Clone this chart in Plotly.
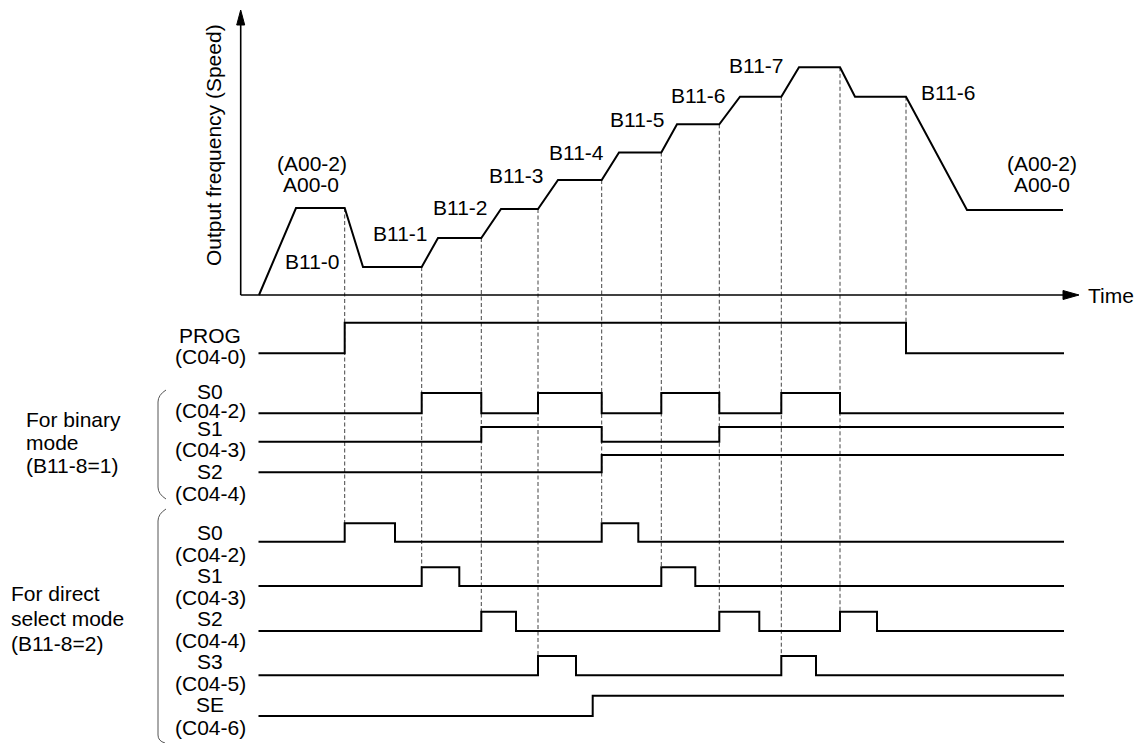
import plotly.graph_objects as go

W, H = 1138, 743
FONT = "Liberation Sans, Arial, sans-serif"
FS = 21

# ---------------- data (time in px-like units) ----------------
BASE_PX = 295          # lane coordinate of the time axis
AXIS_X0 = 240.7        # time origin of the axes
TIME_ARROW_TIP = 1079
FREQ_ARROW_TIP = 285

# speed profile (time, output frequency)
speed_t = [259, 296, 344.7, 363, 421.7, 438, 481.3, 501, 538, 558, 601.7, 619,
           661.3, 677, 719.3, 740, 781.3, 799, 840, 855, 906, 967, 1063]
speed_f = [0, 87, 87, 28, 28, 57, 57, 86, 86, 115, 115, 142.5,
           142.5, 170.7, 170.7, 198.3, 198.3, 227.7, 227.7, 198.3, 198.3, 85, 85]

speed_labels = ["(A00-2)", "A00-0", "B11-0", "B11-1", "B11-2", "B11-3", "B11-4",
                "B11-5", "B11-6", "B11-7", "B11-6", "(A00-2)", "A00-0"]
speed_label_t = [312, 311, 312, 400, 460, 516, 576, 637, 698, 756, 948, 1042, 1042]
speed_label_lane = [163, 184, 261, 233, 207, 175, 152, 119, 95, 65, 92, 163, 184]

SIG_START, SIG_END = 258.5, 1064

# signals: (low lane, high lane, toggle times), start low
prog_lanes, prog_toggles = (353.3, 322.7), [344.7, 906]
bin_s0_lanes, bin_s0_toggles = (413.3, 393.0), [421.7, 481.3, 538, 601.7, 661.3, 719.3, 781.3, 840]
bin_s1_lanes, bin_s1_toggles = (441.7, 427.0), [481.3, 601.7, 719.3]
bin_s2_lanes, bin_s2_toggles = (472.3, 455.0), [601.7]
dir_s0_lanes, dir_s0_toggles = (541.7, 523.3), [344.7, 395, 601.7, 638.3]
dir_s1_lanes, dir_s1_toggles = (586.0, 567.3), [421.7, 459.3, 661.3, 695.3]
dir_s2_lanes, dir_s2_toggles = (631.0, 611.7), [481.3, 516, 719.3, 759.3, 840, 877]
dir_s3_lanes, dir_s3_toggles = (675.3, 656.0), [538, 576, 781.3, 816]
dir_se_lanes, dir_se_toggles = (716.0, 695.7), [592.7]

signals = [
    (prog_lanes, prog_toggles), (bin_s0_lanes, bin_s0_toggles),
    (bin_s1_lanes, bin_s1_toggles), (bin_s2_lanes, bin_s2_toggles),
    (dir_s0_lanes, dir_s0_toggles), (dir_s1_lanes, dir_s1_toggles),
    (dir_s2_lanes, dir_s2_toggles), (dir_s3_lanes, dir_s3_toggles),
    (dir_se_lanes, dir_se_toggles),
]

# dashed guides: time, speed level at top, lane at bottom
guide_t = [344.7, 421.7, 481.3, 538, 601.7, 661.3, 719.3, 781.3, 840, 906]
guide_top_f = [87, 28, 57, 86, 115, 142.5, 170.7, 198.3, 227.7, 198.3]
guide_bottom_lane = [523.3, 567.3, 611.7, 656.0, 523.3, 567.3, 611.7, 656.0, 611.7, 322.7]

sig_labels = ["PROG", "(C04-0)", "S0", "(C04-2)", "S1", "(C04-3)", "S2", "(C04-4)",
              "S0", "(C04-2)", "S1", "(C04-3)", "S2", "(C04-4)", "S3", "(C04-5)",
              "SE", "(C04-6)"]
sig_label_lane = [335, 356, 391, 410, 428, 449, 471, 493,
                  532, 554, 575, 597, 618, 640, 661, 683, 704, 727]
SIG_LABEL_T = 210

group_labels = ["For binary", "mode", "(B11-8=1)", "For direct", "select mode", "(B11-8=2)"]
group_label_t = [24, 24, 24, 9, 9, 9]
group_label_lane = [419, 442, 465, 593, 618, 643]

# ---------------- figure ----------------
fig = go.Figure()

# dashed guides (speed axis: lane -> speed via shared scale)
gx, gy = [], []
for t, ft, lb in zip(guide_t, guide_top_f, guide_bottom_lane):
    gx += [t, t, None]
    gy += [ft, BASE_PX - lb, None]
fig.add_trace(go.Scatter(x=gx, y=gy, mode="lines", yaxis="y",
                         line=dict(color="#444444", width=1, dash="4px,2.5px"),
                         hoverinfo="skip", showlegend=False))

# axes with arrows
fig.add_trace(go.Scatter(x=[AXIS_X0, TIME_ARROW_TIP - 14], y=[0, 0], mode="lines",
                         line=dict(color="black", width=1.6), showlegend=False, hoverinfo="skip"))
fig.add_trace(go.Scatter(x=[AXIS_X0, AXIS_X0], y=[0, FREQ_ARROW_TIP - 13], mode="lines",
                         line=dict(color="black", width=1.6), showlegend=False, hoverinfo="skip"))
fig.add_trace(go.Scatter(x=[TIME_ARROW_TIP, TIME_ARROW_TIP - 16, TIME_ARROW_TIP - 16, TIME_ARROW_TIP],
                         y=[0, 4.5, -4.5, 0], mode="lines", fill="toself", fillcolor="black",
                         line=dict(color="black", width=1), showlegend=False, hoverinfo="skip"))
fig.add_trace(go.Scatter(x=[AXIS_X0, AXIS_X0 - 4, AXIS_X0 + 4, AXIS_X0],
                         y=[FREQ_ARROW_TIP, FREQ_ARROW_TIP - 15, FREQ_ARROW_TIP - 15, FREQ_ARROW_TIP],
                         mode="lines", fill="toself", fillcolor="black",
                         line=dict(color="black", width=1), showlegend=False, hoverinfo="skip"))

# speed profile
fig.add_trace(go.Scatter(x=speed_t, y=speed_f, mode="lines", yaxis="y",
                         line=dict(color="black", width=2), showlegend=False, hoverinfo="skip"))

# signals
for (low, high), toggles in signals:
    xs = [SIG_START] + toggles + [SIG_END]
    states = [i % 2 for i in range(len(toggles) + 1)]
    ys = [high if s else low for s in states] + [high if states[-1] else low]
    fig.add_trace(go.Scatter(x=xs, y=ys, mode="lines", yaxis="y2", line_shape="hv",
                             line=dict(color="black", width=2), showlegend=False, hoverinfo="skip"))

annotations = []
for txt, t, ln in zip(speed_labels, speed_label_t, speed_label_lane):
    annotations.append(dict(x=t, y=ln, xref="x", yref="y2", text=txt, showarrow=False,
                            xanchor="center", yanchor="middle", font=dict(size=FS)))
for txt, ln in zip(sig_labels, sig_label_lane):
    annotations.append(dict(x=SIG_LABEL_T, y=ln, xref="x", yref="y2", text=txt, showarrow=False,
                            xanchor="center", yanchor="middle", font=dict(size=FS)))
for txt, t, ln in zip(group_labels, group_label_t, group_label_lane):
    annotations.append(dict(x=t, y=ln, xref="x", yref="y2", text=txt, showarrow=False,
                            xanchor="left", yanchor="middle", font=dict(size=FS)))
annotations.append(dict(x=TIME_ARROW_TIP + 7, y=BASE_PX, xref="x", yref="y2", text="Time",
                        showarrow=False, xanchor="left", yanchor="middle", font=dict(size=FS)))
annotations.append(dict(x=213, y=145, xref="x", yref="y2", text="Output frequency (Speed)",
                        showarrow=False, textangle=-90, xanchor="center", yanchor="middle",
                        font=dict(size=FS)))

shapes = [
    dict(type="path", xref="x", yref="y2", line=dict(color="#555555", width=1),
         path="M 166,390 Q 158,395 158,402 L 158,487 Q 158,494 166,499"),
    dict(type="path", xref="x", yref="y2", line=dict(color="#555555", width=1),
         path="M 166,509 Q 158,514 158,521 L 158,735 Q 158,741 165,743"),
]

fig.update_layout(
    width=W, height=H, margin=dict(l=0, r=0, t=0, b=0),
    paper_bgcolor="white", plot_bgcolor="white",
    font=dict(family=FONT, color="black", size=FS),
    xaxis=dict(range=[0, W], visible=False, fixedrange=True),
    yaxis=dict(range=[BASE_PX - H, BASE_PX], visible=False, fixedrange=True),
    yaxis2=dict(range=[H, 0], visible=False, overlaying="y", fixedrange=True),
    annotations=annotations, shapes=shapes, showlegend=False,
)

fig.write_html("out.html", config={"staticPlot": True},
               post_script="document.body.style.margin='0';document.body.style.overflow='hidden';")
